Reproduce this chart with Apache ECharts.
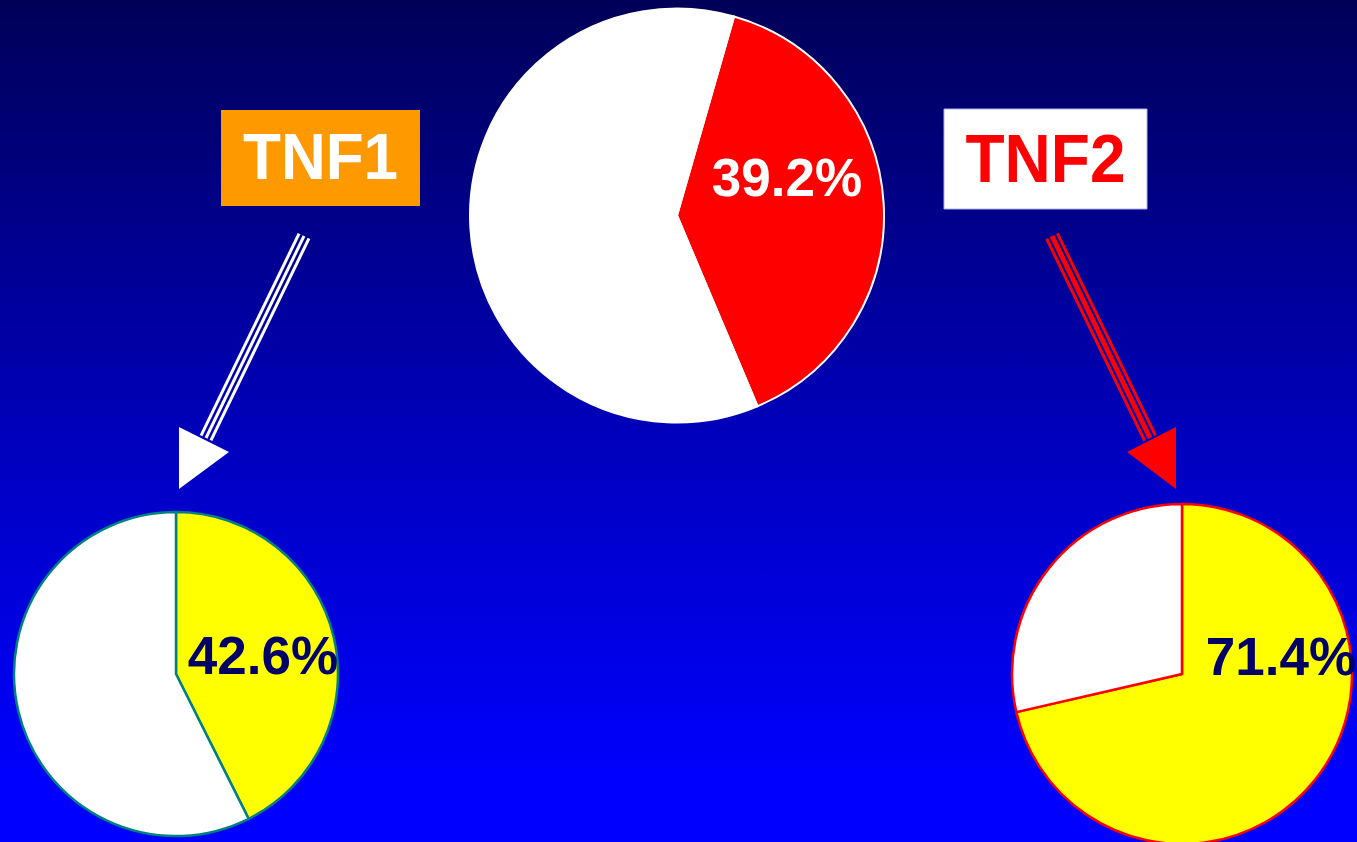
<!DOCTYPE html>
<html>
<head>
<meta charset="utf-8">
<script src="https://cdn.jsdelivr.net/npm/echarts@6/dist/echarts.min.js"></script>
<style>
html,body{margin:0;padding:0;width:1357px;height:842px;overflow:hidden;}
#chart{width:1357px;height:842px;}
</style>
</head>
<body>
<div id="chart"></div>
<script>
// ---- data ----
const sliceNames = ['Positive', 'Negative'];
const overallValues = [39.2, 60.8];
const tnf1Values = [42.6, 57.4];
const tnf2Values = [71.4, 28.6];
const groupLabels = ['TNF1', 'TNF2'];

const chart = echarts.init(document.getElementById('chart'), null, {renderer: 'svg'});

const FONT = '"Liberation Sans", Arial, sans-serif';

function pieSeries(values, cfg) {
  return {
    type: 'pie',
    center: cfg.center,
    radius: cfg.radius,
    startAngle: cfg.startAngle,
    clockwise: true,
    silent: true,
    avoidLabelOverlap: false,
    itemStyle: {borderColor: cfg.border, borderWidth: cfg.borderWidth},
    emphasis: {disabled: true},
    labelLine: {show: false},
    label: {
      show: true,
      position: 'inside',
      formatter: p => p.value + '%',
      fontFamily: FONT,
      fontWeight: 'bold',
      fontSize: cfg.fontSize,
      color: cfg.labelColor
    },
    labelLayout: {x: cfg.labelPos[0], y: cfg.labelPos[1], align: 'center', verticalAlign: 'middle'},
    data: values.map((v, i) => ({
      name: sliceNames[i],
      value: v,
      itemStyle: {color: cfg.colors[i]},
      label: {show: i === 0}
    }))
  };
}

function arrow(x1, y1, x2, y2, tri, color, widths, gap) {
  const dx = x2 - x1, dy = y2 - y1, len = Math.hypot(dx, dy);
  const nx = -dy / len, ny = dx / len;
  const offs = [-gap, 0, gap];
  const els = offs.map((o, i) => ({
    type: 'line',
    silent: true,
    shape: {x1: x1 + nx * o, y1: y1 + ny * o, x2: x2 + nx * o, y2: y2 + ny * o},
    style: {stroke: color, lineWidth: widths[i]}
  }));
  els.push({type: 'polygon', silent: true, shape: {points: tri}, style: {fill: color}});
  return els;
}

const option = {
  animation: false,
  backgroundColor: {
    type: 'linear', x: 0, y: 0, x2: 0, y2: 1,
    colorStops: [
      {offset: 0, color: '#000058'},
      {offset: 0.55, color: '#0000c2'},
      {offset: 0.93, color: '#0000ff'},
      {offset: 1, color: '#0000ff'}
    ]
  },
  series: [
    pieSeries(overallValues, {
      center: [677, 215.5], radius: 207, startAngle: 74,
      border: '#ffffff', borderWidth: 2, colors: ['#ff0000', '#ffffff'],
      fontSize: 53, labelColor: '#ffffff', labelPos: [787, 177]
    }),
    pieSeries(tnf1Values, {
      center: [176, 674], radius: 162, startAngle: 90,
      border: '#008080', borderWidth: 2.5, colors: ['#ffff00', '#ffffff'],
      fontSize: 53, labelColor: '#000066', labelPos: [263, 655]
    }),
    pieSeries(tnf2Values, {
      center: [1182, 674], radius: 170, startAngle: 90,
      border: '#ff0000', borderWidth: 2.5, colors: ['#ffff00', '#ffffff'],
      fontSize: 53, labelColor: '#000066', labelPos: [1281, 656]
    })
  ],
  graphic: [
    {
      type: 'group', silent: true,
      children: [
        {type: 'rect', shape: {x: 221, y: 110, width: 199, height: 96}, style: {fill: '#ff9900'}},
        {type: 'text', x: 320.5, y: 166, scaleY: 1.06, originX: 320.5, originY: 166,
          style: {text: groupLabels[0], fill: '#ffffff', font: 'bold 62px ' + FONT, align: 'center', verticalAlign: 'middle'}},
        {type: 'rect', shape: {x: 944, y: 109, width: 203, height: 100}, style: {fill: '#ffffff', stroke: '#b0b0ee', lineWidth: 1}},
        {type: 'text', x: 1045.5, y: 168, scaleY: 1.06, originX: 1045.5, originY: 168,
          style: {text: groupLabels[1], fill: '#ff0000', font: 'bold 64px ' + FONT, align: 'center', verticalAlign: 'middle'}}
      ]
    },
    {
      type: 'group', silent: true,
      children: arrow(304, 236, 206, 438, [[179, 427], [229, 452], [179, 489]], '#ffffff', [3, 3, 3], 5.5)
    },
    {
      type: 'group', silent: true,
      children: arrow(1052, 236, 1150, 438, [[1127, 452], [1176, 427], [1176, 489]], '#ff0000', [3, 5, 3], 6)
    }
  ]
};

chart.setOption(option);
</script>
</body>
</html>
